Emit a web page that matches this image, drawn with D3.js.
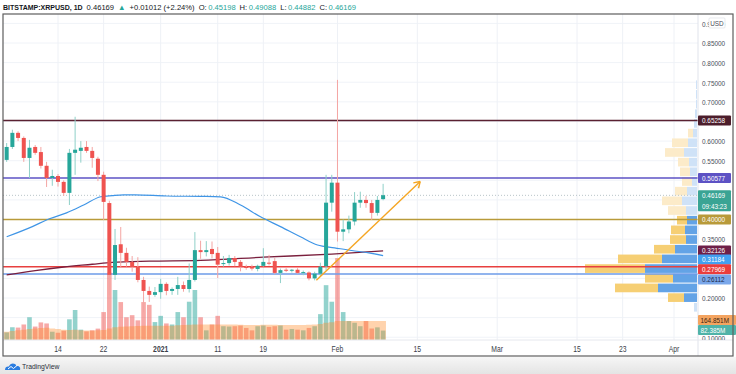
<!DOCTYPE html>
<html><head><meta charset="utf-8">
<script src="https://cdn.jsdelivr.net/npm/d3@7"></script>
<style>
body{margin:0;background:#fff;}
svg{display:block;font-family:"Liberation Sans",Arial,sans-serif;}
</style></head>
<body><svg id="c" width="736" height="374"></svg>
<script>
// ---------- DATA ----------
const startDay = [2020, 11, 5]; // first candle: 5 Dec 2020, one candle per day
const opens  = [.552,.585,.621,.608,.557,.585,.572,.537,.506,.511,.496,.468,.570,.575,.585,.575,.555,.514,.442,.259,
                .337,.315,.292,.279,.246,.218,.208,.215,.236,.218,.223,.233,.223,.246,.322,.317,.325,.315,.287,.289,
                .302,.292,.279,.279,.274,.282,.290,.294,.264,.272,.270,.272,.264,.265,.250,.262,.281,.443,.494,.369,
                .375,.395,.443,.450,.442,.417,.452];
const highs  = [.595,.629,.625,.612,.603,.590,.585,.547,.527,.516,.500,.580,.662,.600,.600,.585,.560,.522,.448,.376,
                .381,.328,.307,.304,.254,.229,.228,.249,.240,.227,.254,.242,.288,.368,.346,.345,.344,.330,.307,.310,
                .307,.297,.285,.285,.285,.327,.310,.302,.275,.276,.274,.276,.270,.268,.267,.290,.514,.514,.756,.400,
                .410,.470,.471,.460,.450,.460,.491];
const lows   = [.547,.580,.600,.547,.506,.565,.530,.483,.486,.484,.460,.437,.514,.545,.570,.532,.498,.399,.207,.246,
                .279,.280,.267,.240,.164,.190,.203,.198,.207,.208,.208,.216,.214,.242,.300,.306,.301,.251,.280,.283,
                .281,.268,.272,.270,.268,.280,.283,.261,.238,.266,.265,.262,.258,.245,.245,.255,.270,.420,.344,.345,
                .365,.385,.430,.430,.399,.410,.449];
const closes = [.585,.621,.608,.557,.583,.570,.537,.506,.511,.496,.468,.570,.578,.583,.575,.557,.514,.445,.259,.335,
                .315,.292,.279,.246,.218,.208,.215,.236,.218,.223,.233,.223,.246,.322,.317,.322,.312,.285,.289,.302,
                .292,.279,.277,.275,.282,.292,.288,.264,.271,.270,.272,.264,.266,.250,.262,.280,.443,.494,.369,.375,
                .395,.443,.450,.442,.417,.450,.462];
const volumes = [66,111,108,135,198,117,153,144,72,63,81,180,261,90,75,84,99,243,585,435,
                 330,198,216,171,330,306,156,210,144,135,243,198,333,435,198,84,135,210,120,117,
                 120,126,105,84,120,126,114,120,126,90,96,90,84,105,120,225,477,333,713,243,
                 165,150,120,165,100,110,82]; // millions
const volumeMA = [72,78,85,90,95,100,104,106,100,95,90,88,90,85,82,82,84,88,100,110,
                  115,118,120,122,125,125,125,125,125,125,128,130,132,135,135,135,135,135,135,135,
                  135,132,130,130,130,132,132,132,130,130,130,130,130,132,135,140,150,155,165,165,
                  165,165,165,165,165,165,165];
// moving averages read as points: [candle index, price]
const sma50 = [[0,.356],[4.5,.382],[7.5,.402],[10.5,.417],[13.5,.437],[16.5,.458],[18.5,.461],[20.5,.463],[22.5,.463],
               [28,.460],[34,.459],[37.5,.458],[41,.437],[44.5,.407],[48,.382],[51.5,.356],[54.5,.335],[57.5,.328],[60.5,.321],[63.5,.315],[66,.308]];
const sma200 = [[0,.259],[5,.270],[10,.279],[15,.286],[18.5,.291],[25,.294],[34,.296],[45,.304],[57,.312],[66,.320]];
// horizontal levels
const levels = [
  {v:.65258, color:"#5a2131"},
  {v:.50577, color:"#5d52c4"},
  {v:.40000, color:"#b89a3a"},
  {v:.27969, color:"#e8403f"},
  {v:.26112, color:"#6d9be8"}
];
// price-scale labels (v = price at the label's centre after stacking)
const axisLabels = [
  {t:"0.65258", v:.65258, bg:"#4c1d2b", fg:"#fff"},
  {t:"0.50577", v:.50577, bg:"#5d52c4", fg:"#fff"},
  {t:"0.40000", v:.40000, bg:"#b89a3a", fg:"#fff"},
  {t:"0.32126", v:.32126, bg:"#6e1f48", fg:"#fff"},
  {t:"0.31184", v:.29840, bg:"#42a0f0", fg:"#fff"},
  {t:"0.27969", v:.27300, bg:"#ea3d3d", fg:"#fff"},
  {t:"0.26112", v:.24700, bg:"#7aa7ea", fg:"#1c2a4a"}
];
const lastPrice = 0.46169;
const countdown = "09:43:23";
const volLabels = [{t:"164.851M", bg:"#f4a460", fg:"#3a2410"},{t:"82.385M", bg:"#4fb3a8", fg:"#fff"}];
// trend arrow: [candle index, price]
const arrow = [[54.3,.245],[72.5,.497]];
// volume profile (24 rows, top row first), up/down volume in relative units
const vpTop = 0.756, vpBottom = 0.164;
const vpUp   = [1,1,1,2,3,4,9,13,8,7,5,10,15,11,10,12,11,22,35,52,24,39,13,3];
const vpDown = [0,0,0,0,0,5,16,19,11,10,10,12,20,18,10,14,16,21,44,60,28,43,16,0];
const vpValueArea = [14,22];
// axis ticks
const priceTicks = d3.range(0.10, 0.9001, 0.05);
const timeTicks = [[2020,11,14,"14"],[2020,11,22,"22"],[2021,0,1,"2021"],[2021,0,11,"11"],[2021,0,19,"19"],
                   [2021,1,1,"Feb"],[2021,1,15,"15"],[2021,2,1,"Mar"],[2021,2,15,"15"],[2021,2,23,"23"],[2021,3,1,"Apr"]];
const header = [
  {t:"BITSTAMP:XRPUSD, 1D", c:"#131722", b:true},
  {t:"0.46169", c:"#131722"}, {t:"▲", c:"#26a69a"}, {t:"+0.01012 (+2.24%)", c:"#131722"},
  {t:"O:", c:"#131722", tight:true}, {t:"0.45198", c:"#26a69a"},
  {t:"H:", c:"#131722", tight:true}, {t:"0.49088", c:"#26a69a"},
  {t:"L:", c:"#131722", tight:true}, {t:"0.44882", c:"#26a69a"},
  {t:"C:", c:"#131722", tight:true}, {t:"0.46169", c:"#26a69a"}
];

// ---------- LAYOUT ----------
const W=736, H=374, L=3, R=698, T=14, B=340;
const svg = d3.select("#c");
const start = new Date(startDay[0], startDay[1], startDay[2]);
const x = d3.scaleTime().domain([new Date(2020,11,14), new Date(2021,3,1)]).range([58, 674]);
const dayW = x(new Date(2020,11,15)) - x(new Date(2020,11,14));
const xi = i => x(start) + i * dayW;
const y = d3.scaleLinear().domain([0.20, 0.85]).range([298, 43]);
const yv = d3.scaleLinear().domain([0, 870]).range([B, B-100]);
const up = "#26a69a", dn = "#ef5350";
const squash = (sel, k) => sel.each(function(){ const w=this.getComputedTextLength(); if(w>0){this.setAttribute("textLength", w*k); this.setAttribute("lengthAdjust","spacingAndGlyphs");}});

// background
svg.append("rect").attr("width",W).attr("height",H).attr("fill","#fff");
const defs = svg.append("defs");
const grad = defs.append("linearGradient").attr("id","bg").attr("x1",0).attr("y1",0).attr("x2",0).attr("y2",1);
grad.append("stop").attr("offset","0%").attr("stop-color","#f6f6f6");
grad.append("stop").attr("offset","100%").attr("stop-color","#e4e4e4");
svg.append("rect").attr("x",0).attr("y",357).attr("width",W).attr("height",H-357).attr("fill","url(#bg)");
defs.append("clipPath").attr("id","plot").append("rect").attr("x",L).attr("y",T).attr("width",R-L).attr("height",B-T);
defs.append("clipPath").attr("id","axis").append("rect").attr("x",R).attr("y",T).attr("width",W-R).attr("height",B-T);

// grid
const grid = svg.append("g").attr("clip-path","url(#plot)");
grid.selectAll("line.h").data(priceTicks).join("line").attr("x1",L).attr("x2",R).attr("y1",d=>y(d)).attr("y2",d=>y(d)).attr("stroke","#f0f3f8");
grid.selectAll("line.v").data(timeTicks).join("line").attr("y1",T).attr("y2",B)
  .attr("x1",d=>x(new Date(d[0],d[1],d[2]))).attr("x2",d=>x(new Date(d[0],d[1],d[2]))).attr("stroke","#eef1f6");

const plot = svg.append("g").attr("clip-path","url(#plot)");

// volume profile
const rowH = (y(vpBottom) - y(vpTop)) / vpUp.length;
const vpw = d3.scaleLinear().domain([0, 112]).range([0, 112]);
const vp = plot.append("g");
vpUp.forEach((u, i) => {
  const inVA = i >= vpValueArea[0] && i <= vpValueArea[1];
  const y0 = y(vpTop) + i*rowH + 0.5;
  const wb = vpw(u), wy = vpw(vpDown[i]);
  if (wy>0) vp.append("rect").attr("x", R-1-wb-wy).attr("y", y0).attr("width", wy).attr("height", rowH-1)
      .attr("fill", inVA ? "#f6cf74" : "#fcebc9");
  vp.append("rect").attr("x", R-1-wb).attr("y", y0).attr("width", wb).attr("height", rowH-1)
      .attr("fill", inVA ? "#63a3e6" : "#cfe2f7");
});

// volume bars
plot.selectAll("rect.vol").data(volumes).join("rect")
  .attr("x",(d,i)=>xi(i)-2.3).attr("width",4.6)
  .attr("y",d=>yv(d)).attr("height",d=>B-yv(d))
  .attr("fill",(d,i)=>closes[i]>=opens[i] ? "rgba(38,166,154,0.5)" : "rgba(239,83,80,0.5)");
// volume MA overlay (step area)
const maPts = volumeMA.map((v,i)=>[xi(i)-dayW/2, v]).concat([[xi(volumeMA.length-1)+dayW/2, volumeMA[volumeMA.length-1]]]);
plot.append("path").datum(maPts)
  .attr("d", d3.area().x(d=>d[0]).y0(B).y1(d=>yv(d[1])).curve(d3.curveStepAfter))
  .attr("fill","rgba(255,140,40,0.38)");

// horizontal levels
plot.selectAll("line.lvl").data(levels).join("line")
  .attr("x1",L).attr("x2",R).attr("y1",d=>y(d.v)).attr("y2",d=>y(d.v))
  .attr("stroke",d=>d.color).attr("stroke-width",1.5);
// last price line (dotted)
plot.append("line").attr("x1",L).attr("x2",R).attr("y1",y(lastPrice)).attr("y2",y(lastPrice))
  .attr("stroke","#b8c4c8").attr("stroke-dasharray","1,2");

// moving averages
const line = d3.line().x(d=>xi(d[0])).y(d=>y(d[1])).curve(d3.curveMonotoneX);
plot.append("path").datum(sma200).attr("d",line).attr("fill","none").attr("stroke","#7a1f3d").attr("stroke-width",1.3);
plot.append("path").datum(sma50).attr("d",line).attr("fill","none").attr("stroke","#3f95e6").attr("stroke-width",1.2);

// candles
const cg = plot.append("g");
cg.selectAll("line").data(opens).join("line")
  .attr("x1",(d,i)=>xi(i)).attr("x2",(d,i)=>xi(i))
  .attr("y1",(d,i)=>y(highs[i])).attr("y2",(d,i)=>y(lows[i]))
  .attr("stroke",(d,i)=>closes[i]>=opens[i]?"#8fd0c8":"#f4a5a3").attr("stroke-width",1);
cg.selectAll("rect").data(opens).join("rect")
  .attr("x",(d,i)=>xi(i)-2).attr("width",4)
  .attr("y",(d,i)=>y(Math.max(opens[i],closes[i])))
  .attr("height",(d,i)=>Math.max(1,Math.abs(y(opens[i])-y(closes[i]))))
  .attr("fill",(d,i)=>closes[i]>=opens[i]?up:dn);

// trend arrow
const a0=[xi(arrow[0][0]),y(arrow[0][1])], a1=[xi(arrow[1][0]),y(arrow[1][1])];
plot.append("line").attr("x1",a0[0]).attr("y1",a0[1]).attr("x2",a1[0]).attr("y2",a1[1]).attr("stroke","#f5a623").attr("stroke-width",1.4);
const ang=Math.atan2(a1[1]-a0[1],a1[0]-a0[0]);
[ang+Math.PI*0.82, ang-Math.PI*0.82].forEach(t=>{
  plot.append("line").attr("x1",a1[0]).attr("y1",a1[1]).attr("x2",a1[0]+7*Math.cos(t)).attr("y2",a1[1]+7*Math.sin(t))
   .attr("stroke","#f5a623").attr("stroke-width",1.4);
});

// separators
svg.append("line").attr("x1",R).attr("x2",R).attr("y1",T).attr("y2",356).attr("stroke","#e0e3eb");
svg.append("line").attr("x1",L).attr("x2",W-3).attr("y1",B).attr("y2",B).attr("stroke","#e6e8ee");

// price axis (ticks hidden under a label are not drawn)
const labelYs = axisLabels.map(d=>y(d.v)).concat([y(lastPrice), y(lastPrice)+11, 320, 330]);
const ax = svg.append("g").attr("clip-path","url(#axis)");
const visTicks = priceTicks.filter(v => labelYs.every(ly => Math.abs(ly - y(v)) > 6.5));
const pa = ax.append("g").attr("transform",`translate(${R+4},0)`)
  .call(d3.axisRight(y).tickValues(visTicks).tickFormat(d3.format(".5f")).tickSize(0));
pa.select(".domain").remove();
pa.selectAll("text").attr("x",0).attr("dy","0.35em").attr("font-size",8).attr("fill","#4a4e59").attr("font-family","Liberation Sans, Arial");
squash(pa.selectAll("text"), 0.8);

function tag(g, yc, txt, bg, fg, w=33, h=10){
  g.append("rect").attr("x",R).attr("y",yc-h/2).attr("width",w).attr("height",h).attr("fill",bg).attr("rx",1);
  const t=g.append("text").attr("x",R+4).attr("y",yc).attr("dy","0.35em").attr("font-size",8).attr("fill",fg).text(txt);
  squash(t,0.8);
  return t;
}
axisLabels.forEach(d=>tag(ax, y(d.v), d.t, d.bg, d.fg));
// last price + countdown
ax.append("rect").attr("x",R).attr("y",y(lastPrice)-5).attr("width",33).attr("height",21).attr("fill","#3aa494").attr("rx",1);
squash(ax.append("text").attr("x",R+4).attr("y",y(lastPrice)).attr("dy","0.35em").attr("font-size",8).attr("fill","#fff").text(lastPrice.toFixed(5)),0.8);
squash(ax.append("text").attr("x",R+4).attr("y",y(lastPrice)+11).attr("dy","0.35em").attr("font-size",8).attr("fill","#fff").text(countdown),0.8);
// volume labels
const vlY = [320, 330];
volLabels.forEach((d,i)=>{
  const t = tag(ax, vlY[i], d.t, d.bg, d.fg, W-R);
  t.attr("x", R+2.5);
  if (+t.attr("textLength") > 30) { t.attr("textLength", 30).attr("lengthAdjust","spacingAndGlyphs"); }
});
// USD box over the 0.90 tick
ax.append("rect").attr("x",R+11).attr("y",18).attr("width",16).attr("height",10).attr("fill","#fff").attr("stroke","#d8dbe3").attr("stroke-width",0.6).attr("rx",1);
squash(ax.append("text").attr("x",R+19).attr("y",23).attr("dy","0.35em").attr("text-anchor","middle").attr("font-size",7.5).attr("fill","#4a4e59").text("USD"),0.85);

// time axis
const ta = svg.append("g");
timeTicks.forEach(d=>{
  const t = ta.append("text").attr("x",x(new Date(d[0],d[1],d[2]))).attr("y",349).attr("dy","0.35em")
   .attr("text-anchor","middle").attr("font-size",8.5).attr("fill","#3a3e49")
   .attr("font-weight", d[3]==="2021" ? "bold" : "normal").text(d[3]);
  squash(t,0.8);
});

// frame
svg.append("rect").attr("x",L).attr("y",T).attr("width",W-3-L).attr("height",356-T).attr("fill","none").attr("stroke","#5e5e5e").attr("stroke-width",1.2);

// header (pieces laid out one after another, natural widths)
let hx = 3;
header.forEach((p) => {
  const t = svg.append("text").attr("x",hx).attr("y",9.5).attr("font-size",p.b ? 7 : 7.6).attr("fill",p.c)
    .attr("font-weight", p.b ? "bold" : "normal").text(p.t);
  hx += t.node().getComputedTextLength() + (p.tight ? 1.5 : 4);
});

// TradingView logo
const lg = svg.append("g").attr("transform","translate(5,362)");
lg.append("path").attr("d","M0,8 C0,5 2,4 4,4.5 C5,1 10,0.5 11.5,4 C14,3.5 16,5.5 15,8 Z").attr("fill","#2b7de0");
lg.append("path").attr("d","M3,7 L6,4.5 L8.5,6.5 L12,3.5").attr("fill","none").attr("stroke","#fff").attr("stroke-width",1);
squash(svg.append("text").attr("x",22).attr("y",369).attr("font-size",8).attr("fill","#2a2e39").text("TradingView"),0.85);
</script>
</body></html>
